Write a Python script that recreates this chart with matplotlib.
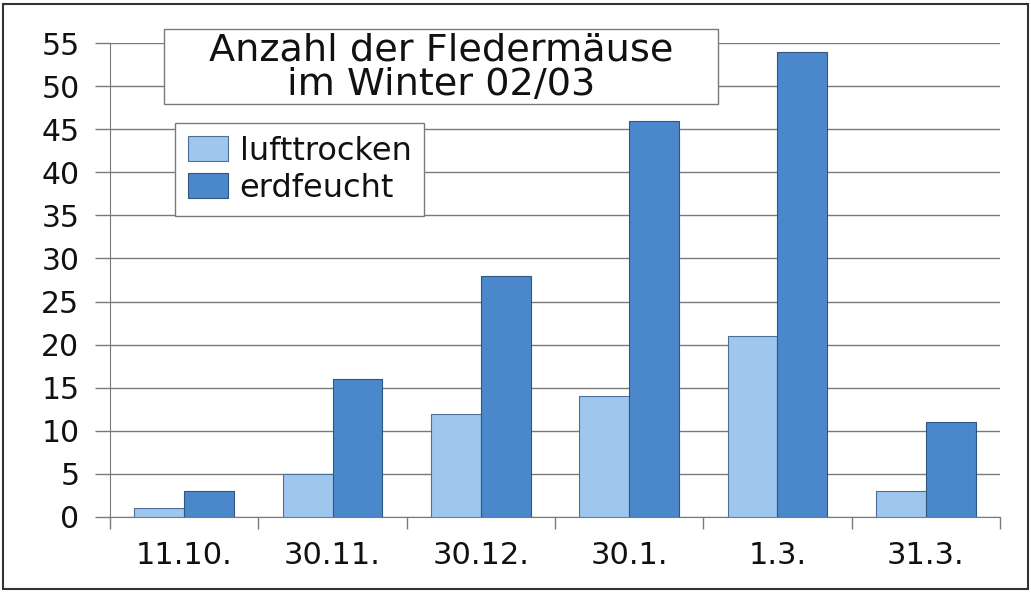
import matplotlib.pyplot as plt
import numpy as np
from matplotlib.patches import Rectangle

plt.rcParams["font.family"] = ["DejaVu Sans"]

dates = ["11.10.", "30.11.", "30.12.", "30.1.", "1.3.", "31.3."]
lufttrocken = [1, 5, 12, 14, 21, 3]
erdfeucht = [3, 16, 28, 46, 54, 11]
yticks = list(range(0, 60, 5))

light = "#9fc6ec"
dark = "#4a87cb"
grid_col = "#7a7a7a"
txt_col = "#111111"

W, H = 1031, 592
fig = plt.figure(figsize=(W / 100, H / 100), dpi=100)
ax = fig.add_axes([110 / W, 1 - 517 / H, (1000 - 110) / W, (517 - 43) / H])

x = np.arange(len(dates))
w = 0.335
ax.bar(x - w / 2, lufttrocken, w, color=light, edgecolor="#4d6f96", linewidth=0.8, label="lufttrocken", zorder=3)
ax.bar(x + w / 2, erdfeucht, w, color=dark, edgecolor="#2f5580", linewidth=0.8, label="erdfeucht", zorder=3)

ax.set_xlim(-0.5, len(dates) - 0.5)
ax.set_ylim(0, 55)
ax.set_yticks(yticks)
ax.set_yticklabels([str(v) for v in yticks], fontsize=21.5, color=txt_col)
ax.yaxis.grid(True, color=grid_col, linewidth=1.0, zorder=0)
ax.tick_params(axis="y", length=11, width=1.0, color=grid_col, pad=11)

ax.set_xticks(x)
ax.set_xticklabels(dates, fontsize=22, color=txt_col)
ax.set_xticks(np.arange(-0.5, len(dates), 1.0), minor=True)
ax.tick_params(axis="x", which="major", length=0, pad=17)
ax.tick_params(axis="x", which="minor", length=8.6, width=1.0, color=grid_col)

for s in ["top", "right"]:
    ax.spines[s].set_visible(False)
ax.spines["left"].set_color(grid_col)
ax.spines["bottom"].set_color(grid_col)

# title box
fig.patches.append(Rectangle((164 / W, 1 - 104 / H), (718 - 164) / W, (104 - 29) / H,
                             transform=fig.transFigure, facecolor="white",
                             edgecolor=grid_col, linewidth=1.0, zorder=5))
fig.text(441 / W, 1 - 67.5 / H, "Anzahl der Fledermäuse\nim Winter 02/03",
         fontsize=27.5, ha="center", va="center", linespacing=0.93, color=txt_col, zorder=6)

leg = ax.legend(loc="upper left", bbox_to_anchor=(175 / W, 1 - 123 / H),
                bbox_transform=fig.transFigure, borderaxespad=0, fontsize=23,
                fancybox=False, edgecolor=grid_col, framealpha=1,
                handlelength=1.25, handleheight=0.8, handletextpad=0.37,
                labelspacing=0.18, borderpad=0.4)
leg.get_frame().set_linewidth(1.0)
for t in leg.get_texts():
    t.set_color(txt_col)

# outer frame
fig.patches.append(Rectangle((3 / W, 3 / H), 1025 / W, 585 / H,
                             transform=fig.transFigure, fill=False,
                             edgecolor="#333333", linewidth=1.5))

fig.savefig("out.png", dpi=100)
